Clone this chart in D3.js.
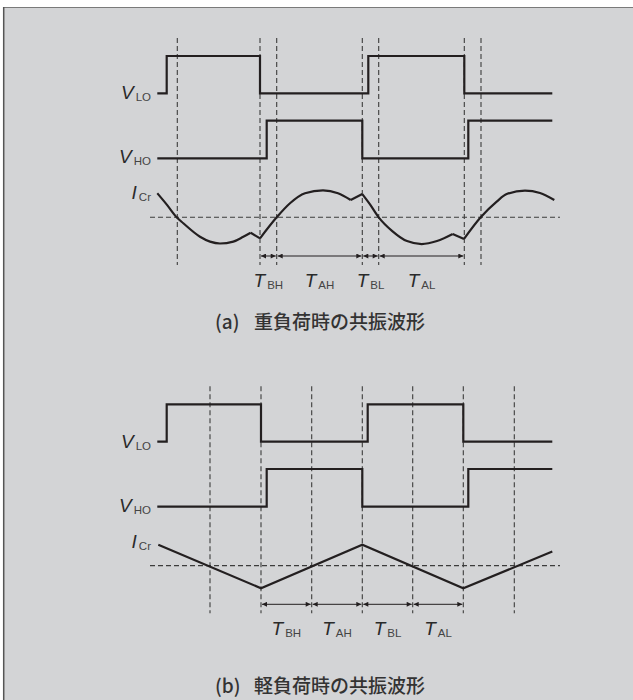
<!DOCTYPE html>
<html>
<head>
<meta charset="utf-8">
<script src="https://cdn.jsdelivr.net/npm/d3@7"></script>
<style>
  html, body { margin: 0; padding: 0; background: #ffffff; }
  svg { display: block; }
</style>
</head>
<body>
<svg id="chart" width="633" height="700"></svg>
<script>
// ---- data -------------------------------------------------------------
// time in arbitrary units (one switching period ≈ 204), gate levels 0/1,
// resonant current normalised so that the heavy-load peak is ±1

const signalLabels   = [["V", "LO"], ["V", "HO"], ["I", "Cr"]];
const intervalLabels = [["T", "BH"], ["T", "AH"], ["T", "BL"], ["T", "AL"]];
const captionTags    = ["(a)", "(b)"];
const captionTexts   = ["重負荷時の共振波形", "軽負荷時の共振波形"];

// (a) heavy load
const vloHeavyT = [7.3, 16.7, 110, 218.3, 314.3, 402.3];
const vloHeavy  = [0, 1, 0, 1, 0, 0];
const vhoHeavyT = [7.3, 116.7, 212.3, 318.3, 402.3];
const vhoHeavy  = [0, 1, 0, 1, 1];
// current drawn as smooth arcs joined by short straight kinks
const icrHeavyArcs = [
  [[7.3, 0.89], [17, 0.46], [26.7, 0], [33.3, -0.22], [50, -0.72], [60, -0.9], [70, -0.97], [83.3, -0.9], [93.3, -0.72], [100.7, -0.57]],
  [[100.7, -0.57], [110, -0.78]],
  [[110, -0.78], [126.7, 0], [140, 0.52], [155, 0.89], [173, 1.0], [188, 0.89], [200.7, 0.64]],
  [[200.7, 0.64], [212.3, 0.86]],
  [[212.3, 0.86], [220, 0.48], [228.7, 0], [242, -0.5], [257, -0.88], [271.7, -0.99], [287, -0.88], [302.7, -0.62]],
  [[302.7, -0.62], [314, -0.8]],
  [[314, -0.8], [330.7, 0], [346.7, 0.58], [356.7, 0.86], [375, 0.99], [390, 0.9], [404.3, 0.64]]
];
const markersHeavy   = [27.3, 110, 126.7, 212.3, 228.7, 314.3, 331];
const intervalsHeavy = [110, 126.7, 212.3, 228.7, 314.3];

// (b) light load: triangular current
const vloLightT = [7.3, 16.7, 111, 217.7, 313.3, 402.3];
const vloLight  = [0, 1, 0, 1, 0, 0];
const vhoLightT = [7.3, 116.7, 212.3, 318.3, 402.3];
const vhoLight  = [0, 1, 0, 1, 1];
const icrLightT = [8.3, 111, 212.3, 313.3, 402.3];
const icrLight  = [0.77, -0.84, 0.77, -0.84, 0.52];
const markersLight   = [60, 111, 161.7, 212.3, 262.7, 313.3, 364.3];
const intervalsLight = [111, 161.7, 212.3, 262.7, 313.3];

// ---- drawing ----------------------------------------------------------
const svg = d3.select("#chart");
const ink = "#231f20";
const dashInk = "#3c3c3c";
const latin = "'Liberation Sans', Arial, sans-serif";

// panel background with its frame on the top and left edges
svg.append("rect").attr("x", 3).attr("y", 7).attr("width", 630).attr("height", 693).attr("fill", "#d3d4d6");
svg.append("line").attr("x1", 3).attr("x2", 633).attr("y1", 7.5).attr("y2", 7.5).attr("stroke", "#7a7a7a").attr("stroke-width", 1);
svg.append("line").attr("x1", 3.7).attr("x2", 3.7).attr("y1", 7).attr("y2", 700).attr("stroke", "#555").attr("stroke-width", 1.5);

const defs = svg.append("defs");
defs.append("marker")
  .attr("id", "arrow")
  .attr("viewBox", "0 0 10 10")
  .attr("refX", 10).attr("refY", 5)
  .attr("markerWidth", 7).attr("markerHeight", 5)
  .attr("markerUnits", "userSpaceOnUse")
  .attr("orient", "auto-start-reverse")
  .append("path").attr("d", "M0,0 L10,5 L0,10 Z").attr("fill", ink);

const x = d3.scaleLinear().domain([0, 400]).range([150, 550]);

function drawPanel(cfg) {
  const g = svg.append("g").attr("transform", `translate(0,${cfg.offset})`);
  const yLo = d3.scaleLinear().domain([0, 1]).range([93.3, 56]);
  const yHo = d3.scaleLinear().domain([0, 1]).range([158.3, 120.7]);
  const yI  = d3.scaleLinear().domain([-1, 1]).range([244.3, 190.3]);

  // timing markers
  g.selectAll("line.marker").data(cfg.markers).join("line")
    .attr("class", "marker")
    .attr("x1", d => x(d)).attr("x2", d => x(d))
    .attr("y1", 38).attr("y2", 265)
    .attr("stroke", dashInk).attr("stroke-width", 1.1)
    .attr("stroke-dasharray", "5,3");

  // zero-current reference
  g.append("line")
    .attr("x1", 150).attr("x2", 560)
    .attr("y1", yI(0)).attr("y2", yI(0))
    .attr("stroke", dashInk).attr("stroke-width", 1.1)
    .attr("stroke-dasharray", "5,3");

  const step = (ys) => d3.line().curve(d3.curveStepAfter).x(d => x(d[0])).y(d => ys(d[1]));
  g.append("path").datum(d3.zip(cfg.vloT, cfg.vlo))
    .attr("d", step(yLo)).attr("fill", "none").attr("stroke", ink).attr("stroke-width", 2.2);
  g.append("path").datum(d3.zip(cfg.vhoT, cfg.vho))
    .attr("d", step(yHo)).attr("fill", "none").attr("stroke", ink).attr("stroke-width", 2.2);

  const current = d3.line().curve(cfg.curve).x(d => x(d[0])).y(d => yI(d[1]));
  g.selectAll("path.icr").data(cfg.icrArcs).join("path")
    .attr("class", "icr")
    .attr("d", current)
    .attr("fill", "none").attr("stroke", ink).attr("stroke-width", 2.2)
    .attr("stroke-linejoin", "miter").attr("stroke-linecap", "butt");

  // signal names
  const labelY = [yLo(0) + 6, yHo(0) + 5, yI(0) - 18];
  signalLabels.forEach((lab, i) => {
    const t = g.append("text")
      .attr("x", 151).attr("y", labelY[i])
      .attr("text-anchor", "end")
      .attr("font-family", latin)
      .attr("fill", "#2a2a2a");
    t.append("tspan").attr("font-size", 19).attr("font-style", "italic").text(lab[0]);
    t.append("tspan").attr("font-size", 11.5).attr("dx", 2).attr("dy", 2).attr("fill", "#444").text(lab[1]);
  });

  // interval arrows and their names
  const spans = d3.pairs(cfg.intervals);
  g.selectAll("line.span").data(spans).join("line")
    .attr("class", "span")
    .attr("x1", d => x(d[0]) + 1).attr("x2", d => x(d[1]) - 1)
    .attr("y1", 256).attr("y2", 256)
    .attr("stroke", ink).attr("stroke-width", 1)
    .attr("marker-start", "url(#arrow)").attr("marker-end", "url(#arrow)");

  spans.forEach((d, i) => {
    const t = g.append("text")
      .attr("x", x((d[0] + d[1]) / 2)).attr("y", 287)
      .attr("text-anchor", "middle")
      .attr("font-family", latin)
      .attr("fill", "#2a2a2a");
    t.append("tspan").attr("font-size", 19).attr("font-style", "italic").text(intervalLabels[i][0]);
    t.append("tspan").attr("font-size", 11.5).attr("dx", 2).attr("dy", 1.5).attr("fill", "#444").text(intervalLabels[i][1]);
  });

  // caption
  const c = svg.append("text")
    .attr("x", 215).attr("y", cfg.captionY)
    .attr("dominant-baseline", "central")
    .attr("font-family", "'Noto Sans CJK JP', 'Noto Sans', sans-serif")
    .attr("font-weight", 500)
    .attr("font-size", 19)
    .attr("fill", "#333");
  c.append("tspan").text(cfg.tag);
  c.append("tspan").attr("x", 254).text(cfg.caption);
}

drawPanel({
  offset: 0,
  vloT: vloHeavyT, vlo: vloHeavy, vhoT: vhoHeavyT, vho: vhoHeavy,
  icrArcs: icrHeavyArcs, curve: d3.curveMonotoneX,
  markers: markersHeavy, intervals: intervalsHeavy,
  tag: captionTags[0], caption: captionTexts[0], captionY: 320
});

drawPanel({
  offset: 348.3,
  vloT: vloLightT, vlo: vloLight, vhoT: vhoLightT, vho: vhoLight,
  icrArcs: [d3.zip(icrLightT, icrLight)], curve: d3.curveLinear,
  markers: markersLight, intervals: intervalsLight,
  tag: captionTags[1], caption: captionTexts[1], captionY: 684
});
</script>
</body>
</html>
